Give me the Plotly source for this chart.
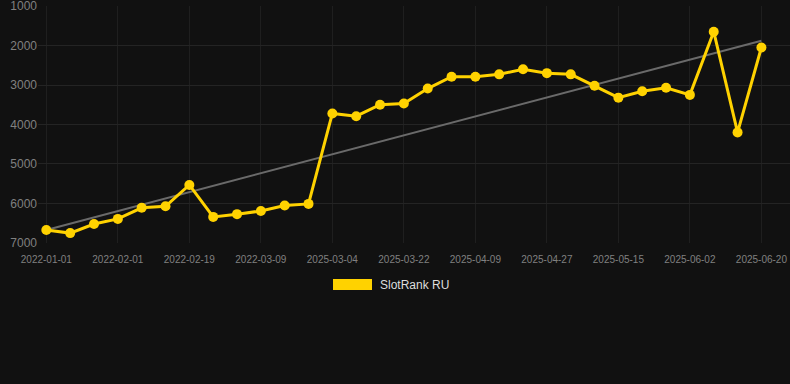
import numpy as np
import plotly.graph_objects as go

dates = [
    "2022-01-01", "2022-01-11", "2022-01-21", "2022-02-01", "2022-02-07", "2022-02-13",
    "2022-02-19", "2022-02-25", "2022-03-03", "2022-03-09", "2022-03-15", "2022-03-21",
    "2025-03-04", "2025-03-10", "2025-03-16", "2025-03-22", "2025-03-28", "2025-04-03",
    "2025-04-09", "2025-04-15", "2025-04-21", "2025-04-27", "2025-05-03", "2025-05-09",
    "2025-05-15", "2025-05-21", "2025-05-27", "2025-06-02", "2025-06-08", "2025-06-14",
    "2025-06-20",
]
rank = [
    6670, 6750, 6520, 6390, 6110, 6070, 5530, 6340, 6270, 6190, 6050, 6010,
    3720, 3790, 3500, 3470, 3090, 2790, 2790, 2730, 2600, 2700, 2730, 3020,
    3320, 3160, 3070, 3250, 1650, 4200, 2050,
]
y_ticks = [1000, 2000, 3000, 4000, 5000, 6000, 7000]
series_name = "SlotRank RU"

idx = np.arange(len(rank))
slope, intercept = np.polyfit(idx, rank, 1)
trend = slope * idx + intercept

GOLD = "#FFD200"

fig = go.Figure()
fig.add_trace(go.Scatter(
    x=dates, y=trend, mode="lines",
    line=dict(color="#6a6a6a", width=2), showlegend=False, hoverinfo="skip",
))
fig.add_trace(go.Scatter(
    x=dates, y=rank, mode="lines+markers", name=series_name,
    line=dict(color=GOLD, width=3), marker=dict(color=GOLD, size=10),
    showlegend=False,
))

# legend drawn as swatch + label
fig.add_shape(type="rect", xref="paper", yref="paper",
              x0=(333 - 38) / 752, x1=(372 - 38) / 752,
              y0=(243 - 290) / 237, y1=(243 - 279) / 237,
              fillcolor=GOLD, line=dict(width=0))
fig.add_annotation(xref="paper", yref="paper", x=(378 - 38) / 752, y=(243 - 284.5) / 237,
                   text=series_name, showarrow=False, xanchor="left", yanchor="middle",
                   font=dict(color="#dddddd", size=12))

fig.update_layout(
    width=790, height=384,
    margin=dict(l=38, r=0, t=6, b=141),
    paper_bgcolor="#111111", plot_bgcolor="#111111",
    font=dict(family="Liberation Sans, Arial, sans-serif", color="#808080"),
    xaxis=dict(
        type="category", tickmode="array", tickvals=dates[::3], ticktext=dates[::3],
        range=[-0.35, len(dates) - 1 + 1.2],
        showgrid=True, gridcolor="#1f1f1f", gridwidth=1,
        zeroline=False, showline=False, ticks="", tickfont=dict(size=10, color="#808080"),
        ticklabelstandoff=9, ticklabeloverflow="allow",
    ),
    yaxis=dict(
        range=[7000.5, 999.5], tickvals=y_ticks, showgrid=True, gridcolor="#242424",
        zeroline=False, showline=False, ticks="", tickfont=dict(size=12, color="#808080"),
        ticklabelstandoff=0, ticklabeloverflow="allow",
    ),
    showlegend=False,
)

fig.write_html("out.html", config={"displayModeBar": False},
               post_script="document.body.style.margin='0';document.body.style.background='#111111';")
